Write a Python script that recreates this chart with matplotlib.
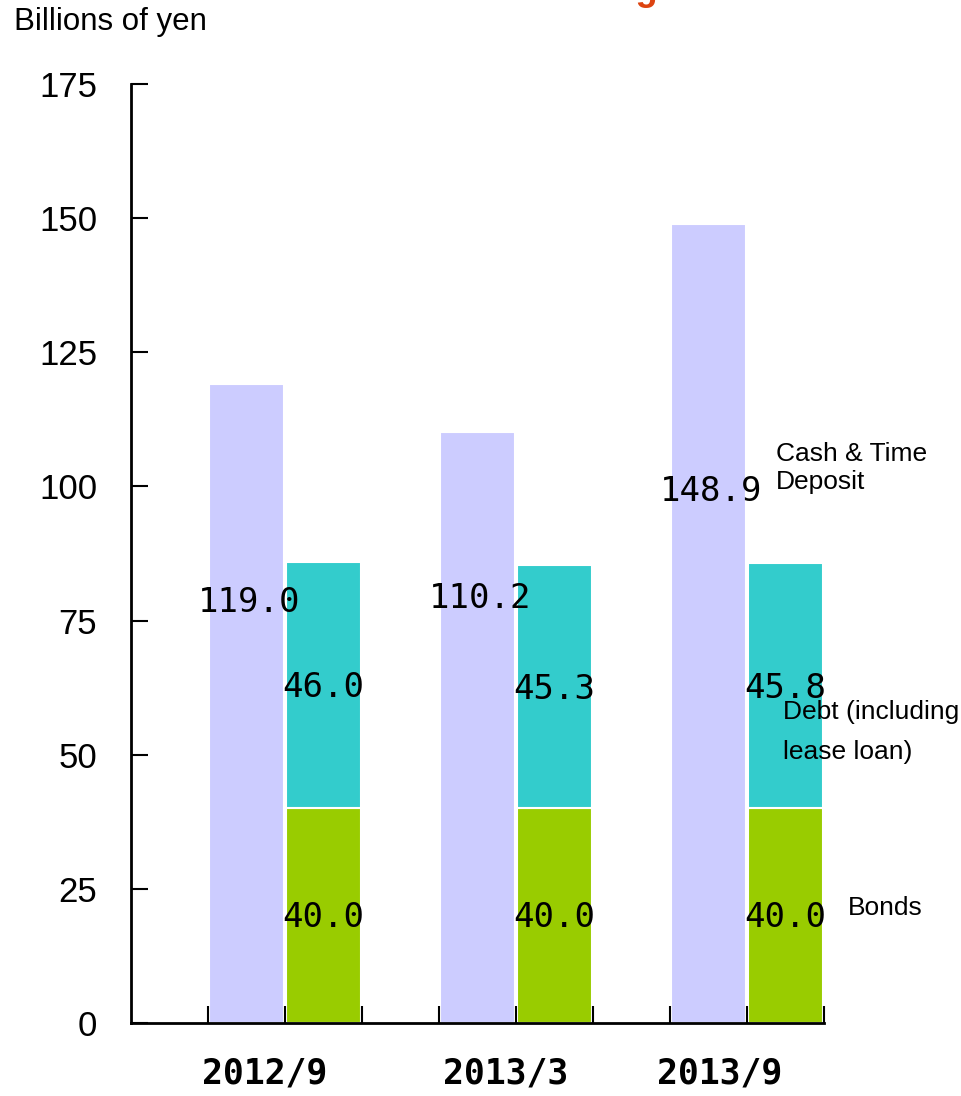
import numpy as np
import matplotlib.pyplot as plt

periods = ["2012/9", "2013/3", "2013/9"]
cash = [119.0, 110.2, 148.9]
bonds = [40.0, 40.0, 40.0]
debt = [46.0, 45.3, 45.8]
yticks = [0, 25, 50, 75, 100, 125, 150, 175]

# where the cash labels sit (the source puts them high up, not centred)
cash_label_y = [78.3, 79.2, 99.0]
period_label_x = [1.74, 4.87, 7.65]

c_cash = "#CCCCFF"
c_debt = "#33CCCC"
c_bond = "#99CC00"

W, H = 961, 1096
def fx(px):
    return px / W
def fy(py):
    return 1 - py / H

plt.rcParams.update({
    'font.family': ['Liberation Sans', 'DejaVu Sans'],
    'axes.linewidth': 2,
})

fig = plt.figure(figsize=(W / 100, H / 100), dpi=100)
ax = fig.add_axes([fx(130.7), 73 / H, (824 - 130.7) / W, (1023 - 84) / H])
ax.set_axisbelow(False)  # ticks sit on top of the bars

n = len(periods)
x_cash = np.arange(n) * 3 + 1.5
x_stack = np.arange(n) * 3 + 2.5

ax.bar(x_cash, cash, width=0.97, color=c_cash, edgecolor='white', linewidth=1.5, zorder=2)
ax.bar(x_stack, bonds, width=0.97, color=c_bond, edgecolor='white', linewidth=1.5, zorder=2)
ax.bar(x_stack, debt, bottom=bonds, width=0.97, color=c_debt, edgecolor='white', linewidth=1.5, zorder=2)

mono = dict(family='DejaVu Sans Mono', fontsize=24.5, ha='center', va='center', color='black', zorder=5)
for i in range(n):
    ax.text(x_cash[i] + 0.04, cash_label_y[i], f"{cash[i]:.1f}", **mono)
    ax.text(x_stack[i], bonds[i] + debt[i] / 2 - 0.5, f"{debt[i]:.1f}", **mono)
    ax.text(x_stack[i], bonds[i] / 2 - 0.4, f"{bonds[i]:.1f}", **mono)
    ax.text(period_label_x[i], -9.5, periods[i], family='DejaVu Sans Mono', fontsize=25,
            fontweight='bold', ha='center', va='center', clip_on=False)

ax.set_xlim(0, 3 * n)
ax.set_ylim(0, 175)
ax.set_xticks(np.arange(1, 3 * n + 1))
ax.set_xticklabels([])
ax.set_yticks(yticks)
ax.set_yticklabels([str(v) for v in yticks])
ax.tick_params(axis='x', direction='in', length=12, width=1.5, color='black')
ax.tick_params(axis='y', direction='in', length=12, width=1.5, color='black',
               labelsize=25, pad=24)
ax.spines['top'].set_visible(False)
ax.spines['right'].set_visible(False)

fig.text(fx(14), fy(22), "Billions of yen", fontsize=22.5, ha='left', va='center')

# title sits mostly above the canvas, only the descender shows
fig.text(fx(480), 1.0, "Cash and Interest-bearing Debt", fontsize=26, fontweight='bold',
         color='#DD4411', ha='center', va='baseline')

fig.text(fx(776), fy(442), "Cash & Time\nDeposit", fontsize=19, ha='left', va='top', linespacing=1.2)
fig.text(fx(783), fy(700), "Debt (including\nlease loan)", fontsize=19, ha='left', va='top',
         linespacing=1.85, zorder=6)
fig.text(fx(848), fy(908), "Bonds", fontsize=19, ha='left', va='center')

plt.savefig("out.png", dpi=100)
